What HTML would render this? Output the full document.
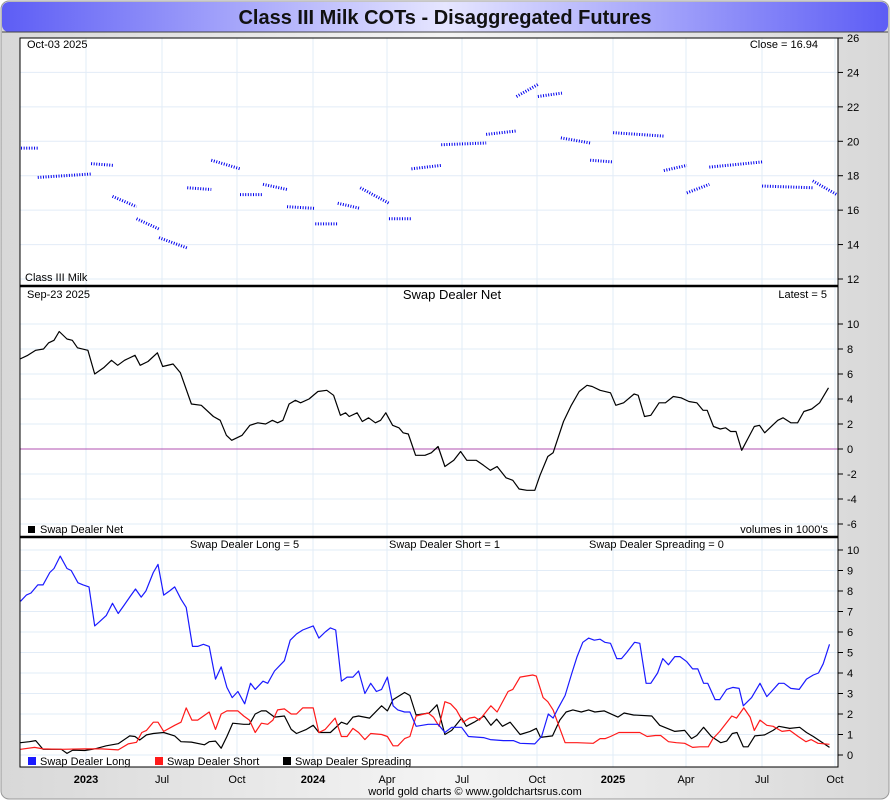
<!DOCTYPE html>
<html><head><meta charset="utf-8"><style>
html,body{margin:0;padding:0;background:#fff;}
svg{display:block;font-family:"Liberation Sans",sans-serif;}
</style></head><body>
<svg id="chart" width="890" height="800" viewBox="0 0 890 800" xmlns="http://www.w3.org/2000/svg">
<defs>
<linearGradient id="tg" x1="0" x2="1" y1="0" y2="0">
<stop offset="0" stop-color="#5d5df5"/><stop offset="0.5" stop-color="#e6e6ff"/><stop offset="1" stop-color="#5d5df5"/>
</linearGradient>
<linearGradient id="bg" x1="0" x2="1" y1="0" y2="0">
<stop offset="0" stop-color="#d8d8d8"/><stop offset="0.5" stop-color="#f4f4f4"/><stop offset="1" stop-color="#d8d8d8"/>
</linearGradient>
</defs>
<rect x="1" y="1" width="888" height="798" rx="8" fill="url(#bg)" stroke="#999"/>
<rect x="2" y="2" width="886" height="30" rx="7" fill="url(#tg)"/>
<line x1="2" y1="32" x2="888" y2="32" stroke="#444" stroke-width="1"/>
<text x="445" y="24" text-anchor="middle" font-size="20" font-weight="bold" fill="#111">Class III Milk COTs - Disaggregated Futures</text>
<rect x="20" y="38" width="818" height="729" fill="#fff"/>
<g id="grid"></g>
<g id="marks"></g>
<g id="axes"></g>
<rect x="20" y="38" width="818" height="729" fill="none" stroke="#000" stroke-width="1"/>
<line x1="20" y1="286" x2="838" y2="286" stroke="#000" stroke-width="2.5"/>
<line x1="20" y1="537" x2="838" y2="537" stroke="#000" stroke-width="2.5"/>

<g font-size="11" fill="#000">
<text x="27" y="48">Oct-03  2025</text>
<text x="818" y="48" text-anchor="end">Close = 16.94</text>
<text x="25" y="281">Class III Milk</text>
<text x="27" y="298">Sep-23  2025</text>
<text x="452" y="299" text-anchor="middle" font-size="13">Swap Dealer Net</text>
<text x="827" y="298" text-anchor="end">Latest = 5</text>
<rect x="28" y="526" width="7" height="7" fill="#000"/>
<text x="40" y="533">Swap Dealer Net</text>
<text x="828" y="533" text-anchor="end">volumes in 1000's</text>
<text x="190" y="548">Swap Dealer Long = 5</text>
<text x="389" y="548">Swap Dealer Short = 1</text>
<text x="589" y="548">Swap Dealer Spreading = 0</text>
<rect x="28" y="757" width="8" height="8" fill="#1a1aff"/>
<text x="40" y="765">Swap Dealer Long</text>
<rect x="155" y="757" width="8" height="8" fill="#ff1a1a"/>
<text x="167" y="765">Swap Dealer Short</text>
<rect x="283" y="757" width="8" height="8" fill="#000"/>
<text x="295" y="765">Swap Dealer Spreading</text>
<text x="475" y="795" text-anchor="middle">world gold charts © www.goldchartsrus.com</text>
</g>
</svg>
<script>
// x-axis ticks (weeks since first report)
const xTickWeeks=[12.63,27.17,41.52,56.07,70.23,84.58,98.93,113.47,127.44,141.98,155.95];
const xTickLabels=["2023","Jul","Oct","2024","Apr","Jul","Oct","2025","Apr","Jul","Oct"];
const xTickBold=[true,false,false,true,false,false,false,true,false,false,false];
const priceTicks=[12,14,16,18,20,22,24,26];
const netTicks=[-6,-4,-2,0,2,4,6,8,10];
const posTicks=[0,1,2,3,4,5,6,7,8,9,10];

// price segments (front contract runs): start week, end week, start price, end price
const segStart=[0.2,3.4,13.6,17.7,22.3,26.6,32.0,36.6,42.1,46.5,51.1,56.5,60.8,65.1,70.6,74.9,80.6,89.2,95.0,99.1,103.5,109.1,113.5,123.2,127.6,131.9,142.0,151.7];
const segEnd=[3.4,13.6,17.9,22.3,26.6,32.0,36.6,42.1,46.5,51.1,56.5,60.8,65.1,70.6,74.9,80.6,89.2,95.0,99.1,103.7,109.1,113.5,123.2,127.6,131.9,142.0,151.7,156.3];
const segOpen=[19.6,17.9,18.7,16.8,15.5,14.4,17.3,18.9,16.9,17.5,16.2,15.2,16.4,17.3,15.5,18.4,19.8,20.4,22.6,22.6,20.2,18.9,20.5,18.3,17.0,18.5,17.4,17.7];
const segClose=[19.6,18.1,18.6,16.2,14.9,13.8,17.2,18.4,16.9,17.2,16.1,15.2,16.1,16.4,15.5,18.6,19.9,20.6,23.3,22.8,19.9,18.8,20.3,18.6,17.5,18.8,17.3,16.9];

// swap dealer net
const netWeeks=[0,1.5,3,4.5,5.5,6.5,7.5,9,10,11,13,14.3,16,17.5,18.7,20,22,23,24.5,26.3,27.3,29.3,30.7,32.8,34.7,37,38.3,39.5,40.5,42.5,44,45.5,47,48.3,49.3,50.3,51.5,52.7,53.7,55.3,57,58.7,60,61.3,62.3,63,64.5,65.5,66.7,68,69,70,71.3,72.5,73.3,74.3,75.7,77.5,78.7,80,81.3,83,84.3,85.5,87.3,88.7,90,91.3,93,94.3,95.5,97,98.5,99.5,101,102,104,105.5,107,108.5,109.5,111,113,114,115.5,117.5,118.3,119.5,120.7,122.3,123.5,125,126.5,128,129.5,130.7,131.5,132.7,134,135,136,137,138.1,139.5,140.5,141.5,142.5,144,145,146,147.5,148.8,150,151.5,153,154.7];
const netValues=[7.2,7.5,7.9,8.0,8.5,8.7,9.4,8.8,8.7,8.1,7.9,6.0,6.5,7.1,6.7,7.1,7.5,6.7,7.0,7.7,6.6,6.8,6.1,3.6,3.5,2.6,2.3,1.1,0.7,1.1,1.9,2.1,2.0,2.3,2.1,2.3,3.6,3.9,3.7,4.0,4.6,4.7,4.3,2.7,2.9,2.6,2.9,2.2,2.5,2.1,2.3,2.9,1.9,1.7,1.3,1.2,-0.5,-0.5,-0.3,0.2,-1.4,-0.9,-0.2,-0.9,-0.9,-1.3,-1.7,-1.4,-2.3,-2.5,-3.2,-3.3,-3.3,-2.1,-0.6,-0.3,2.2,3.5,4.6,5.1,5.0,4.7,4.5,3.5,3.7,4.4,4.3,2.6,2.7,3.7,3.7,4.2,4.1,3.8,3.7,3.1,3.1,1.8,1.6,1.7,1.4,1.4,-0.1,1.0,1.8,1.9,1.3,1.9,2.3,2.5,2.1,2.1,3.0,3.2,3.7,4.9];

// swap dealer long
const longWeeks=[0.1,1.2,2.1,3.4,4.4,5.7,6.5,7.7,9.0,9.8,11.1,12.1,13.2,14.3,15.2,16.5,17.7,18.8,19.9,21.0,22.1,23.2,24.1,25.5,26.4,27.5,28.6,29.6,30.8,31.8,33.0,34.0,35.1,36.2,37.4,38.5,39.6,40.6,41.7,43.0,44.1,45.0,46.5,47.4,48.7,50.6,51.7,52.9,54.1,56.1,57.2,58.4,59.4,60.4,61.5,62.6,63.7,64.8,66.0,67.1,68.2,69.2,70.3,71.4,72.3,73.6,74.6,75.8,78.1,80.0,81.3,82.6,84.5,85.8,88.7,90.0,92.5,94.4,95.7,98.5,99.8,101.1,102.0,103.0,104.3,105.6,106.6,107.7,108.8,109.9,111.0,111.9,113.0,114.2,115.1,116.1,117.6,118.6,119.8,120.7,122.0,123.0,124.1,125.3,126.3,127.6,128.7,129.7,130.8,131.6,133.0,133.9,135.2,136.4,137.6,138.4,140.0,141.6,142.9,143.8,145.2,146.2,147.5,149.1,150.5,151.8,152.8,153.7,154.9];
const longValues=[7.5,7.8,7.9,8.3,8.3,8.9,9.1,9.7,9.1,9.0,8.4,8.3,8.2,6.3,6.5,6.8,7.4,6.9,7.3,7.7,8.1,7.7,8.0,8.9,9.3,7.8,8.0,8.2,7.6,7.2,5.3,5.3,5.4,5.3,3.7,4.3,3.3,2.8,3.1,2.5,3.5,3.2,3.6,3.5,4.1,4.6,5.6,5.9,6.1,6.3,5.7,6.0,6.2,6.1,3.6,3.8,3.8,4.1,3.0,3.5,3.1,3.2,3.8,2.4,2.2,2.1,2.1,1.4,1.5,1.5,1.1,1.35,1.35,0.9,0.85,0.75,0.7,0.7,0.57,0.54,0.9,2.0,1.8,2.3,2.9,4.0,4.8,5.5,5.7,5.6,5.65,5.5,5.45,4.7,4.7,5.0,5.5,5.45,3.5,3.5,4.0,4.7,4.4,4.8,4.8,4.55,4.2,4.2,3.5,3.5,2.7,2.7,3.2,3.3,3.25,2.4,2.8,3.5,2.85,3.1,3.5,3.5,3.25,3.2,3.7,3.9,4.0,4.45,5.4];

// swap dealer short
const shortWeeks=[0.1,2.8,4.4,7.9,12.4,15.6,18.8,20.7,22.3,23.3,24.2,25.5,26.4,27.5,29.6,30.8,31.8,32.9,34.0,36.2,37.4,38.5,39.6,41.7,42.8,43.9,45.0,46.2,47.4,48.4,49.3,50.6,51.9,52.9,54.1,56.1,57.2,58.4,60.3,61.5,62.6,63.7,64.8,66.0,67.1,69.2,70.3,71.4,72.3,73.6,74.6,75.8,78.1,79.1,80.2,81.3,82.4,83.5,84.8,86.0,87.0,87.9,90.1,91.3,93.4,94.3,95.7,96.8,98.1,98.8,100.1,101.0,102.0,103.3,104.3,106.6,109.7,111.0,112.0,113.0,114.6,116.2,118.6,120.0,121.6,122.6,124.1,125.6,127.2,128.7,130.1,131.7,132.6,133.9,136.2,137.1,138.5,139.7,140.5,141.6,142.9,144.1,145.8,147.3,148.9,150.4,151.4,152.7,154.9];
const shortValues=[0.28,0.37,0.3,0.28,0.3,0.3,0.25,0.54,0.62,1.1,1.2,1.6,1.6,1.15,1.45,1.6,2.3,1.7,1.7,2.1,1.25,2.0,2.15,2.15,1.9,1.7,1.1,1.55,1.5,1.7,2.2,2.25,2.0,2.0,2.3,2.3,1.1,1.25,1.8,0.9,0.9,1.3,1.1,0.75,1.05,1.0,0.9,0.45,0.45,0.8,0.9,1.9,2.05,1.85,1.4,2.6,2.5,2.2,1.6,1.8,1.85,1.7,2.4,2.1,3.1,3.2,3.8,3.85,3.9,3.85,2.8,2.6,2.2,1.3,0.6,0.6,0.57,0.8,0.8,0.9,1.1,1.1,1.1,0.9,0.95,0.95,0.65,0.6,0.57,0.37,0.4,0.4,0.8,1.15,1.9,1.8,2.3,1.85,1.2,1.7,1.45,1.4,1.15,1.2,0.9,0.65,0.75,0.57,0.52];

// swap dealer spreading
const spreadWeeks=[0.1,1.8,3.0,4.4,7.9,9.0,10.1,12.4,14.3,16.5,18.8,21.0,22.0,22.9,24.2,25.5,27.5,29.6,30.8,32.8,35.3,36.2,37.4,38.5,39.6,40.7,42.8,43.9,45.0,46.2,47.1,48.7,50.6,51.9,52.9,54.8,56.1,57.2,59.4,61.5,62.6,63.7,64.8,66.9,69.2,70.3,71.4,73.6,74.6,75.8,78.3,79.8,81.3,82.6,84.5,85.4,86.9,88.8,90.1,91.2,92.3,93.8,95.7,97.6,98.8,99.6,101.9,103.3,104.5,105.8,107.4,108.8,110.0,111.8,114.4,115.6,117.4,120.9,122.4,125.3,127.2,128.5,129.5,130.8,132.3,134.1,135.2,136.3,137.2,138.4,139.3,140.6,142.5,144.1,145.2,147.3,149.2,150.5,151.8,154.9];
const spreadValues=[0.6,0.65,0.7,0.28,0.28,0.08,0.24,0.22,0.3,0.45,0.55,0.93,0.9,0.73,0.98,1.05,1.1,0.93,0.65,0.63,0.5,0.65,0.68,0.33,0.9,1.55,1.5,1.5,2.0,2.15,2.15,1.85,1.9,1.25,1.05,1.25,1.45,1.1,1.1,1.6,1.5,1.85,1.9,1.8,2.4,2.15,2.7,3.05,2.9,1.95,2.05,2.45,1.0,1.2,1.8,1.4,1.6,1.9,1.45,1.75,1.4,1.6,1.0,1.15,1.3,0.86,0.93,1.7,2.1,2.2,2.1,2.2,2.1,2.15,1.85,2.05,1.95,1.9,1.45,1.15,1.2,0.8,0.95,1.35,0.9,0.6,0.68,1.05,1.1,0.4,0.4,0.93,0.98,1.2,1.4,1.3,1.35,1.1,0.9,0.37];

const NS="http://www.w3.org/2000/svg";
const xS=w=>20+w*5.226;
const yP=v=>38+(26-v)*17.214;
const yN=v=>449-v*12.5;
const yB=v=>755-v*20.5;
const grid=document.getElementById('grid');
const marks=document.getElementById('marks');
const axes=document.getElementById('axes');
function mk(tag,attrs,parent){const e=document.createElementNS(NS,tag);for(const k in attrs)e.setAttribute(k,attrs[k]);parent.appendChild(e);return e;}

xTickWeeks.forEach((w,i)=>{
  const x=xS(w);
  const g=mk('line',{x1:x,y1:38,x2:x,y2:767,stroke:'#e2ecf7','stroke-width':1},grid);
  
  
  const t=mk('text',{x:x,y:783,'text-anchor':'middle','font-size':11,'font-weight':xTickBold[i]?'bold':'normal'},axes);
  t.textContent=xTickLabels[i];
  
  
});
function hAxis(ticks,scale,name){
  ticks.forEach(v=>{
    const y=scale(v);
    const g=mk('line',{x1:20,y1:y,x2:838,y2:y,stroke:'#e2ecf7','stroke-width':1},grid);
    
    
    mk('line',{x1:838,y1:y,x2:843,y2:y,stroke:'#000'},axes);
    const t=mk('text',{x:847,y:y+4,'font-size':11},axes);
    t.textContent=v;
    
    
  });
}
hAxis(priceTicks,yP,'price-axis');
hAxis(netTicks,yN,'net-axis');
hAxis(posTicks,yB,'positions-axis');

const z=mk('line',{x1:20,y1:yN(0),x2:838,y2:yN(0),stroke:'#b050b0','stroke-width':1},marks);



segStart.forEach((s,i)=>{
  const l=mk('line',{x1:xS(s),y1:yP(segOpen[i]),x2:xS(segEnd[i]),y2:yP(segClose[i]),stroke:'#0000ee','stroke-width':3,'stroke-dasharray':'1 1.6'},marks);
  
  
});

function series(ws,vs,scale,color,name){
  const pts=ws.map((w,i)=>xS(w).toFixed(1)+','+scale(vs[i]).toFixed(1)).join(' ');
  const p=mk('polyline',{points:pts,fill:'none',stroke:color,'stroke-width':1.2,'stroke-linejoin':'round'},marks);
  
  
}
series(netWeeks,netValues,yN,'#000','swap-dealer-net-line');
series(spreadWeeks,spreadValues,yB,'#000','swap-dealer-spreading-line');
series(shortWeeks,shortValues,yB,'#ff1a1a','swap-dealer-short-line');
series(longWeeks,longValues,yB,'#1a1aff','swap-dealer-long-line');
</script>
</body></html>
